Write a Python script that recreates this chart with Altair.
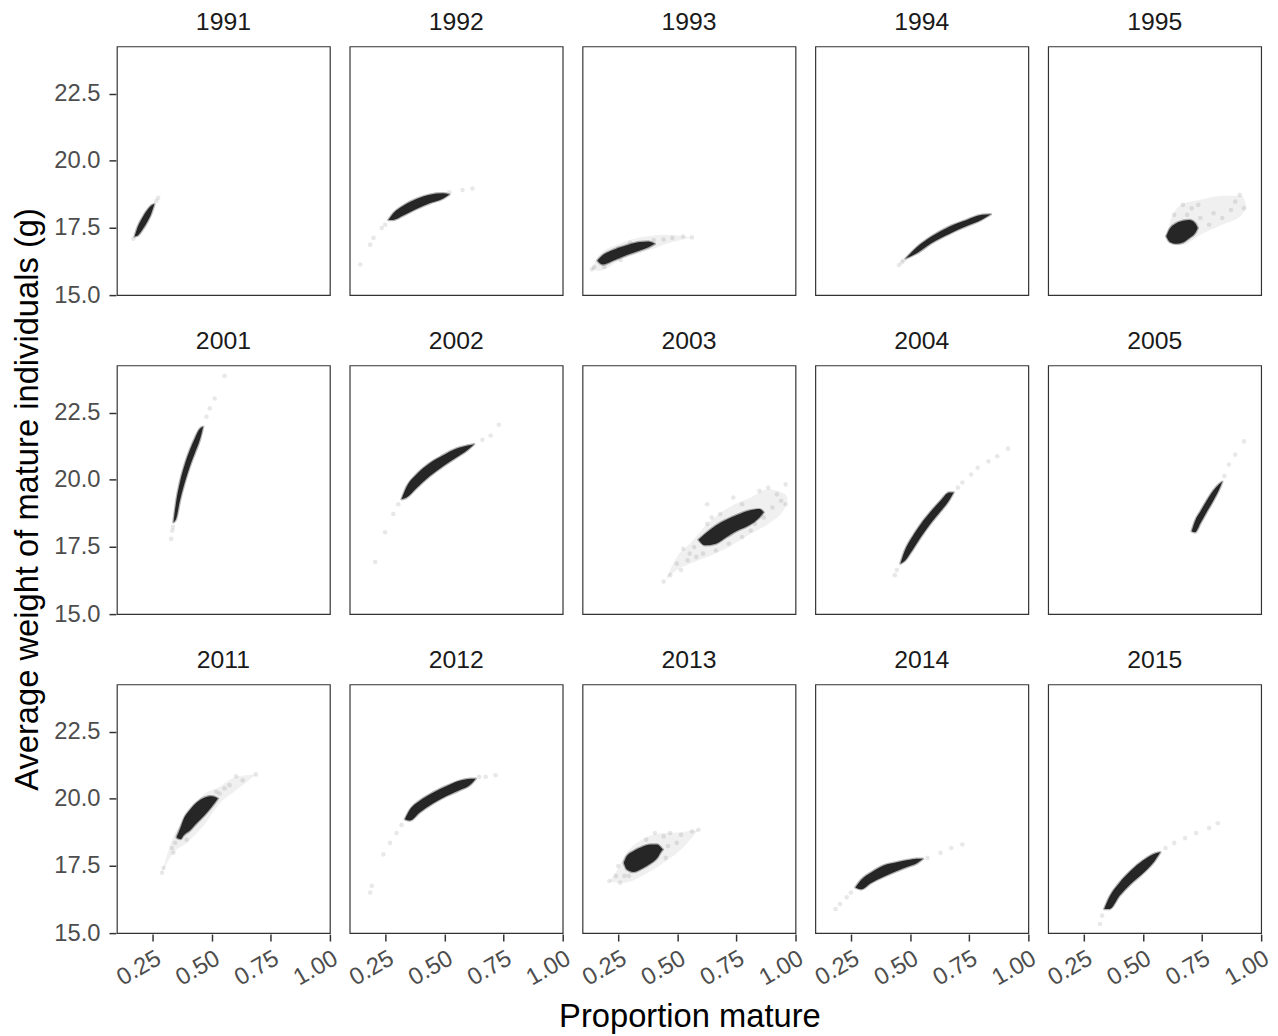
import altair as alt
import pandas as pd

YEARS = [1991, 1992, 1993, 1994, 1995, 2001, 2002, 2003, 2004, 2005, 2011, 2012, 2013, 2014, 2015]

# dense core of each cloud: (proportion mature, lower weight, upper weight)
core_1991 = [(0.173, 17.18, 17.18), (0.185, 17.21, 17.51), (0.206, 17.43, 17.88), (0.227, 17.73, 18.17), (0.244, 18.04, 18.34), (0.257, 18.39, 18.39)]
core_1992 = [(0.262, 17.80, 17.80), (0.283, 17.80, 18.05), (0.325, 17.96, 18.33), (0.381, 18.21, 18.58), (0.437, 18.42, 18.74), (0.493, 18.59, 18.79), (0.521, 18.75, 18.75)]
core_1993 = [(0.162, 16.27, 16.30), (0.184, 16.14, 16.49), (0.230, 16.29, 16.69), (0.286, 16.49, 16.86), (0.341, 16.66, 16.98), (0.378, 16.78, 17.00), (0.405, 16.91, 16.91)]
core_1994 = [(0.481, 16.36, 16.36), (0.527, 16.55, 16.77), (0.592, 16.94, 17.19), (0.666, 17.28, 17.55), (0.740, 17.57, 17.80), (0.806, 17.82, 17.99), (0.843, 18.01, 18.01)]
core_1995 = [(0.599, 17.19, 17.19), (0.614, 16.98, 17.47), (0.642, 16.91, 17.68), (0.670, 16.96, 17.77), (0.698, 17.13, 17.80), (0.722, 17.31, 17.68), (0.733, 17.50, 17.50)]
core_2001 = [(0.338, 18.42, 18.42), (0.349, 18.54, 19.16), (0.366, 19.24, 19.93), (0.387, 19.93, 20.60), (0.408, 20.51, 21.12), (0.429, 21.00, 21.55), (0.450, 21.49, 21.90), (0.464, 21.98, 21.98)]
core_2002 = [(0.318, 19.28, 19.28), (0.339, 19.34, 19.73), (0.381, 19.69, 20.20), (0.437, 20.13, 20.62), (0.493, 20.50, 20.91), (0.549, 20.82, 21.16), (0.598, 21.11, 21.28), (0.626, 21.33, 21.33)]
core_2003 = [(0.590, 17.77, 17.77), (0.618, 17.56, 17.99), (0.664, 17.62, 18.30), (0.710, 17.87, 18.52), (0.756, 18.11, 18.70), (0.803, 18.30, 18.85), (0.849, 18.60, 18.91), (0.867, 18.79, 18.79)]
core_2004 = [(0.459, 16.88, 16.88), (0.477, 16.98, 17.35), (0.509, 17.37, 17.87), (0.546, 17.87, 18.36), (0.588, 18.38, 18.82), (0.629, 18.82, 19.22), (0.666, 19.24, 19.53), (0.685, 19.53, 19.53)]
core_2005 = [(0.707, 18.09, 18.09), (0.722, 18.05, 18.48), (0.744, 18.38, 18.82), (0.772, 18.82, 19.24), (0.800, 19.24, 19.61), (0.822, 19.61, 19.83), (0.837, 19.93, 19.93)]
core_2011 = [(0.352, 18.55, 18.60), (0.369, 18.50, 18.95), (0.380, 18.63, 19.22), (0.408, 18.82, 19.59), (0.436, 19.09, 19.86), (0.471, 19.40, 20.05), (0.499, 19.69, 20.10), (0.520, 19.93, 20.05), (0.527, 20.01, 20.01)]
core_2012 = [(0.332, 19.24, 19.24), (0.353, 19.19, 19.59), (0.395, 19.49, 19.93), (0.451, 19.83, 20.23), (0.507, 20.10, 20.47), (0.563, 20.32, 20.67), (0.612, 20.54, 20.75), (0.633, 20.75, 20.75)]
core_2013 = [(0.273, 17.62, 17.62), (0.286, 17.37, 17.87), (0.313, 17.28, 18.05), (0.350, 17.40, 18.21), (0.387, 17.59, 18.30), (0.415, 17.80, 18.30), (0.433, 18.05, 18.17), (0.439, 18.11, 18.11)]
core_2014 = [(0.268, 16.70, 16.70), (0.292, 16.63, 16.98), (0.333, 16.86, 17.25), (0.388, 17.10, 17.52), (0.444, 17.31, 17.64), (0.490, 17.47, 17.72), (0.527, 17.59, 17.77), (0.555, 17.77, 17.77)]
core_2015 = [(0.336, 15.90, 15.90), (0.359, 15.90, 16.36), (0.401, 16.39, 16.88), (0.447, 16.82, 17.31), (0.503, 17.25, 17.72), (0.549, 17.68, 17.96), (0.574, 18.01, 18.01)]

# faint diffuse envelope around the broader clouds: (proportion mature, lower weight, upper weight)
halo_1993 = [(0.138, 15.96, 15.96), (0.165, 15.90, 16.45), (0.262, 16.33, 16.94), (0.371, 16.64, 17.19), (0.442, 16.88, 17.25), (0.562, 17.15, 17.15)]
halo_1995 = [(0.600, 17.20, 17.20), (0.620, 16.95, 17.85), (0.670, 16.88, 18.40), (0.744, 17.25, 18.55), (0.837, 17.62, 18.70), (0.920, 17.99, 18.70), (0.940, 18.30, 18.30)]
halo_2003 = [(0.451, 16.27, 16.27), (0.498, 16.64, 17.13), (0.553, 16.88, 17.62), (0.627, 17.13, 18.36), (0.719, 17.50, 18.97), (0.812, 17.99, 19.34), (0.886, 18.36, 19.65), (0.958, 18.97, 19.46), (0.968, 19.34, 19.34)]
halo_2011 = [(0.289, 17.25, 17.25), (0.338, 17.99, 18.60), (0.394, 18.36, 19.34), (0.463, 18.97, 20.14), (0.534, 19.83, 20.45), (0.604, 20.32, 20.82), (0.688, 20.91, 20.91)]
halo_2013 = [(0.212, 16.94, 16.94), (0.239, 16.88, 17.25), (0.276, 16.88, 17.87), (0.350, 17.13, 18.48), (0.442, 17.62, 18.73), (0.516, 18.11, 18.76), (0.590, 18.85, 18.85)]

# sparse outlying draws: (proportion mature, weight)
tail_1991 = [(0.168, 17.10), (0.265, 18.50), (0.273, 18.62)]
tail_1992 = [(0.143, 16.14), (0.185, 16.88), (0.199, 17.13), (0.234, 17.50), (0.248, 17.62), (0.521, 18.83), (0.577, 18.91), (0.619, 18.97)]
tail_1993 = [(0.138, 15.96), (0.147, 16.04), (0.190, 16.05), (0.250, 16.75), (0.260, 16.30), (0.300, 16.95), (0.400, 17.05), (0.442, 17.07), (0.479, 17.13), (0.525, 17.19), (0.562, 17.15)]
tail_1994 = [(0.453, 16.12), (0.465, 16.22), (0.472, 16.29)]
tail_1995 = [(0.633, 17.99), (0.670, 18.36), (0.688, 17.99), (0.707, 18.23), (0.735, 18.36), (0.744, 17.87), (0.781, 17.62), (0.800, 18.05), (0.837, 17.87), (0.874, 18.17), (0.892, 18.48), (0.911, 18.73), (0.929, 18.23)]
tail_2001 = [(0.328, 17.80), (0.333, 18.11), (0.336, 18.25), (0.478, 22.35), (0.492, 22.66), (0.513, 23.03), (0.555, 23.87)]
tail_2002 = [(0.206, 16.94), (0.248, 18.05), (0.283, 18.73), (0.304, 19.09), (0.661, 21.49), (0.696, 21.65), (0.731, 22.05)]
tail_2003 = [(0.442, 16.21), (0.470, 16.45), (0.498, 16.88), (0.516, 16.64), (0.525, 17.43), (0.544, 17.00), (0.553, 17.25), (0.572, 17.50), (0.581, 17.13), (0.609, 17.25), (0.627, 18.36), (0.627, 19.09), (0.646, 18.60), (0.664, 17.37), (0.682, 18.73), (0.719, 17.62), (0.738, 19.34), (0.775, 17.87), (0.775, 19.09), (0.812, 18.11), (0.830, 18.36), (0.849, 19.59), (0.867, 18.60), (0.886, 19.71), (0.904, 18.97), (0.923, 19.46), (0.941, 19.22), (0.960, 19.09), (0.960, 19.83)]
tail_2004 = [(0.435, 16.45), (0.444, 16.64), (0.703, 19.71), (0.722, 19.90), (0.759, 20.20), (0.787, 20.45), (0.833, 20.69), (0.870, 20.88), (0.916, 21.16)]
tail_2005 = [(0.846, 20.14), (0.865, 20.57), (0.892, 20.94), (0.929, 21.43)]
tail_2011 = [(0.289, 17.25), (0.296, 17.43), (0.331, 18.17), (0.338, 17.99), (0.345, 18.36), (0.394, 18.48), (0.492, 20.08), (0.520, 20.26), (0.534, 20.20), (0.555, 20.39), (0.576, 20.51), (0.604, 20.84), (0.632, 20.69), (0.688, 20.91)]
tail_2012 = [(0.185, 16.51), (0.192, 16.76), (0.241, 17.93), (0.269, 18.36), (0.297, 18.73), (0.318, 19.03), (0.647, 20.82), (0.675, 20.82), (0.717, 20.88)]
tail_2013 = [(0.212, 16.94), (0.239, 17.13), (0.249, 17.50), (0.258, 16.88), (0.276, 17.13), (0.295, 17.13), (0.368, 18.48), (0.405, 18.73), (0.442, 18.60), (0.451, 17.80), (0.461, 18.24), (0.470, 18.73), (0.498, 18.36), (0.516, 18.66), (0.562, 18.79), (0.590, 18.85)]
tail_2014 = [(0.184, 15.90), (0.203, 16.08), (0.231, 16.33), (0.249, 16.51), (0.574, 17.80), (0.629, 17.99), (0.675, 18.17), (0.722, 18.30)]
tail_2015 = [(0.318, 15.34), (0.327, 15.65), (0.596, 18.17), (0.633, 18.36), (0.679, 18.54), (0.726, 18.73), (0.781, 18.91), (0.818, 19.09)]

X_TICKS = [0.25, 0.50, 0.75, 1.00]
Y_TICKS = [15.0, 17.5, 20.0, 22.5]

cores = {1991: core_1991, 1992: core_1992, 1993: core_1993, 1994: core_1994, 1995: core_1995,
         2001: core_2001, 2002: core_2002, 2003: core_2003, 2004: core_2004, 2005: core_2005,
         2011: core_2011, 2012: core_2012, 2013: core_2013, 2014: core_2014, 2015: core_2015}
halos = {1993: halo_1993, 1995: halo_1995, 2003: halo_2003, 2011: halo_2011, 2013: halo_2013}
tails = {1991: tail_1991, 1992: tail_1992, 1993: tail_1993, 1994: tail_1994, 1995: tail_1995,
         2001: tail_2001, 2002: tail_2002, 2003: tail_2003, 2004: tail_2004, 2005: tail_2005,
         2011: tail_2011, 2012: tail_2012, 2013: tail_2013, 2014: tail_2014, 2015: tail_2015}

rows = []
for yr in YEARS:
    for x, lo, hi in cores[yr]:
        rows.append({"year": yr, "kind": "core", "x": x, "lo": lo, "hi": hi})
    for x, lo, hi in halos.get(yr, []):
        rows.append({"year": yr, "kind": "halo", "x": x, "lo": lo, "hi": hi})
    for x, y in tails[yr]:
        rows.append({"year": yr, "kind": "tail", "x": x, "y": y})
df = pd.DataFrame(rows)

FONT = "Liberation Sans"
xscale = alt.Scale(domain=[0.098, 1.002], nice=False, zero=False)
yscale = alt.Scale(domain=[15.0, 24.26], nice=False, zero=False)

xaxis = alt.Axis(values=X_TICKS, format=".2f", labelAngle=-30, labelAlign="right",
                 labelBaseline="top", title=None, tickSize=7, labelPadding=5)
yaxis = alt.Axis(values=Y_TICKS, format=".1f", title=None, tickSize=7, labelPadding=9)

halo = alt.Chart().transform_filter(alt.datum.kind == "halo").mark_area(
    interpolate="monotone", orient="vertical", color="#262626", opacity=0.07, clip=True
).encode(
    x=alt.X("x:Q", scale=xscale, axis=xaxis),
    y=alt.Y("lo:Q", scale=yscale, axis=yaxis),
    y2="hi:Q",
)

band = alt.Chart().transform_filter(alt.datum.kind == "core").mark_area(
    interpolate="monotone", orient="vertical", color="#262626", stroke="#262626",
    strokeWidth=2.5, strokeOpacity=0.35, strokeJoin="round", clip=True
).encode(
    x=alt.X("x:Q", scale=xscale),
    y=alt.Y("lo:Q", scale=yscale),
    y2="hi:Q",
)

dots = alt.Chart().transform_filter(alt.datum.kind == "tail").mark_circle(
    color="black", opacity=0.09, size=22, clip=True
).encode(
    x=alt.X("x:Q", scale=xscale),
    y=alt.Y("y:Q", scale=yscale),
)

facet = alt.layer(halo, band, dots, data=df).properties(width=215, height=251).facet(
    facet=alt.Facet("year:O", sort=YEARS,
                    header=alt.Header(title=None, labelFontSize=25, labelFont=FONT,
                                      labelColor="#1a1a1a", labelPadding=12)),
    columns=5,
    spacing={"row": 32, "column": 18},
).properties(
    title=alt.TitleParams("Average weight of mature individuals (g)", orient="left", anchor="middle",
                          fontSize=33, font=FONT, fontWeight="normal", color="black", offset=9)
)

chart = alt.hconcat(facet).properties(
    title=alt.TitleParams("Proportion mature", orient="bottom", anchor="middle",
                          fontSize=33, font=FONT, fontWeight="normal", color="black",
                          offset=12, dx=48),
    padding={"left": 12, "top": 4, "right": 5, "bottom": 0},
).configure(font=FONT).configure_view(
    stroke="#333333", strokeWidth=1.2
).configure_axis(
    domain=False, grid=False, tickColor="#333333", tickWidth=1.5,
    labelColor="#4d4d4d", labelFont=FONT, labelFontSize=24
)

chart.save("out.html", embed_options={"renderer": "svg", "actions": False})
